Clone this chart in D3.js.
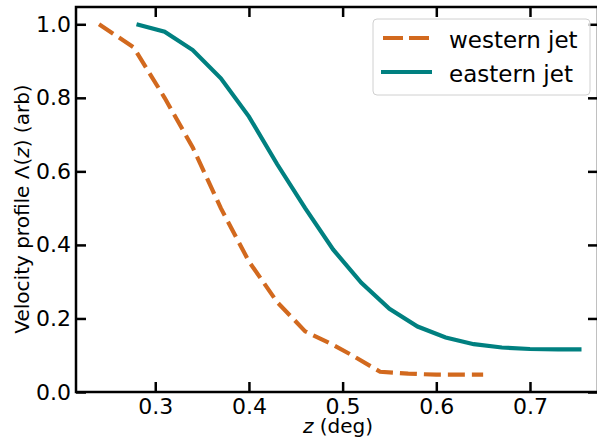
<!DOCTYPE html>
<html lang="en">
<head>
    <meta charset="UTF-8">
    <title>Velocity profile</title>
    <script src="https://d3js.org/d3.v7.min.js"></script>
    <style>
        body { margin: 0; background: #fff; }
        svg { font-family: "DejaVu Sans", sans-serif; display: block; }
        .axis-label { font-size: 20px; fill: #000; }
        .legend-text { font-size: 23px; fill: #000; }
    </style>
</head>
<body>
<svg id="chart" width="597" height="443"></svg>
<script>
    // data
    const westZ = [0.24, 0.277, 0.31, 0.34, 0.37, 0.40, 0.43, 0.46, 0.49, 0.51, 0.54, 0.57, 0.60, 0.65];
    const westV = [1.0, 0.937, 0.80, 0.665, 0.50, 0.355, 0.245, 0.165, 0.128, 0.10, 0.055, 0.05, 0.047, 0.047];
    const eastZ = [0.28, 0.31, 0.34, 0.37, 0.40, 0.43, 0.46, 0.49, 0.52, 0.55, 0.58, 0.61, 0.64, 0.67, 0.70, 0.73, 0.755];
    const eastV = [1.0, 0.98, 0.93, 0.853, 0.749, 0.62, 0.50, 0.387, 0.297, 0.226, 0.178, 0.148, 0.130, 0.121, 0.117, 0.116, 0.116];
    const xTicks = [0.3, 0.4, 0.5, 0.6, 0.7];
    const yTicks = [0.0, 0.2, 0.4, 0.6, 0.8, 1.0];
    const seriesNames = ["western jet", "eastern jet"];
    const colors = ["#d2691e", "#008080"];

    const svg = d3.select("#chart");
    const pLeft = 76, pRight = 598, pTop = 7, pBottom = 392;

    const x = d3.scaleLinear().domain([0.2154, 0.7726]).range([pLeft, pRight]);
    const y = d3.scaleLinear().domain([0, 1.047]).range([pBottom, pTop]);

    const series = [
        { name: seriesNames[0], color: colors[0], dash: "17,7", pts: westZ.map((z, i) => [z, westV[i]]) },
        { name: seriesNames[1], color: colors[1], dash: null, pts: eastZ.map((z, i) => [z, eastV[i]]) }
    ];

    const line = d3.line().x(d => x(d[0])).y(d => y(d[1]));

    series.forEach(s => {
        svg.append("path")
           .attr("d", line(s.pts))
           .attr("fill", "none")
           .attr("stroke", s.color)
           .attr("stroke-width", 4.2)
           .attr("stroke-dasharray", s.dash);
    });

    // axes: ticks inward on all four sides
    const tl = 10;
    svg.append("g").attr("transform", `translate(0,${pBottom})`)
       .call(d3.axisBottom(x).tickValues(xTicks).tickSize(-tl).tickPadding(6).tickFormat(d3.format(".1f")));
    svg.append("g").attr("transform", `translate(0,${pTop})`)
       .call(d3.axisTop(x).tickValues(xTicks).tickSize(-tl).tickFormat(""));
    svg.append("g").attr("transform", `translate(${pLeft},0)`)
       .call(d3.axisLeft(y).tickValues(yTicks).tickSize(-tl).tickPadding(5).tickFormat(d3.format(".1f")));
    svg.append("g").attr("transform", `translate(${pRight},0)`)
       .call(d3.axisRight(y).tickValues(yTicks).tickSize(-tl).tickFormat(""));

    svg.selectAll(".domain").remove();
    svg.selectAll(".tick line").attr("stroke", "#000").attr("stroke-width", 2.5);
    svg.selectAll(".tick text")
       .attr("font-size", 22)
       .attr("font-family", "DejaVu Sans")
       .attr("fill", "#000");

    // spines
    svg.append("rect")
       .attr("x", pLeft).attr("y", pTop)
       .attr("width", pRight - pLeft).attr("height", pBottom - pTop)
       .attr("fill", "none").attr("stroke", "#000").attr("stroke-width", 2.5);

    // axis labels
    const xl = svg.append("text").attr("class", "axis-label")
       .attr("x", 338).attr("y", 433).attr("text-anchor", "middle");
    xl.append("tspan").attr("font-style", "italic").text("z");
    xl.append("tspan").text(" (deg)");

    const yl = svg.append("text").attr("class", "axis-label")
       .attr("transform", "translate(29,209) rotate(-90)").attr("text-anchor", "middle");
    yl.append("tspan").text("Velocity profile \u039B(");
    yl.append("tspan").attr("font-style", "italic").text("z");
    yl.append("tspan").text(") (arb)");

    // legend
    const lg = svg.append("g");
    lg.append("rect")
      .attr("x", 373).attr("y", 19).attr("width", 217).attr("height", 76)
      .attr("rx", 4).attr("fill", "#fff").attr("fill-opacity", 0.8)
      .attr("stroke", "#d0d0d0").attr("stroke-width", 1);
    series.forEach((s, i) => {
        const cy = 38 + i * 34;
        lg.append("line")
          .attr("x1", 381).attr("x2", 432).attr("y1", cy).attr("y2", cy)
          .attr("stroke", s.color).attr("stroke-width", 4.2)
          .attr("stroke-dasharray", s.dash ? "20,6" : null)
          .attr("stroke-dashoffset", s.dash ? -2 : null);
        lg.append("text").attr("class", "legend-text")
          .attr("x", 449).attr("y", cy + 10).text(s.name);
    });
</script>
</body>
</html>
